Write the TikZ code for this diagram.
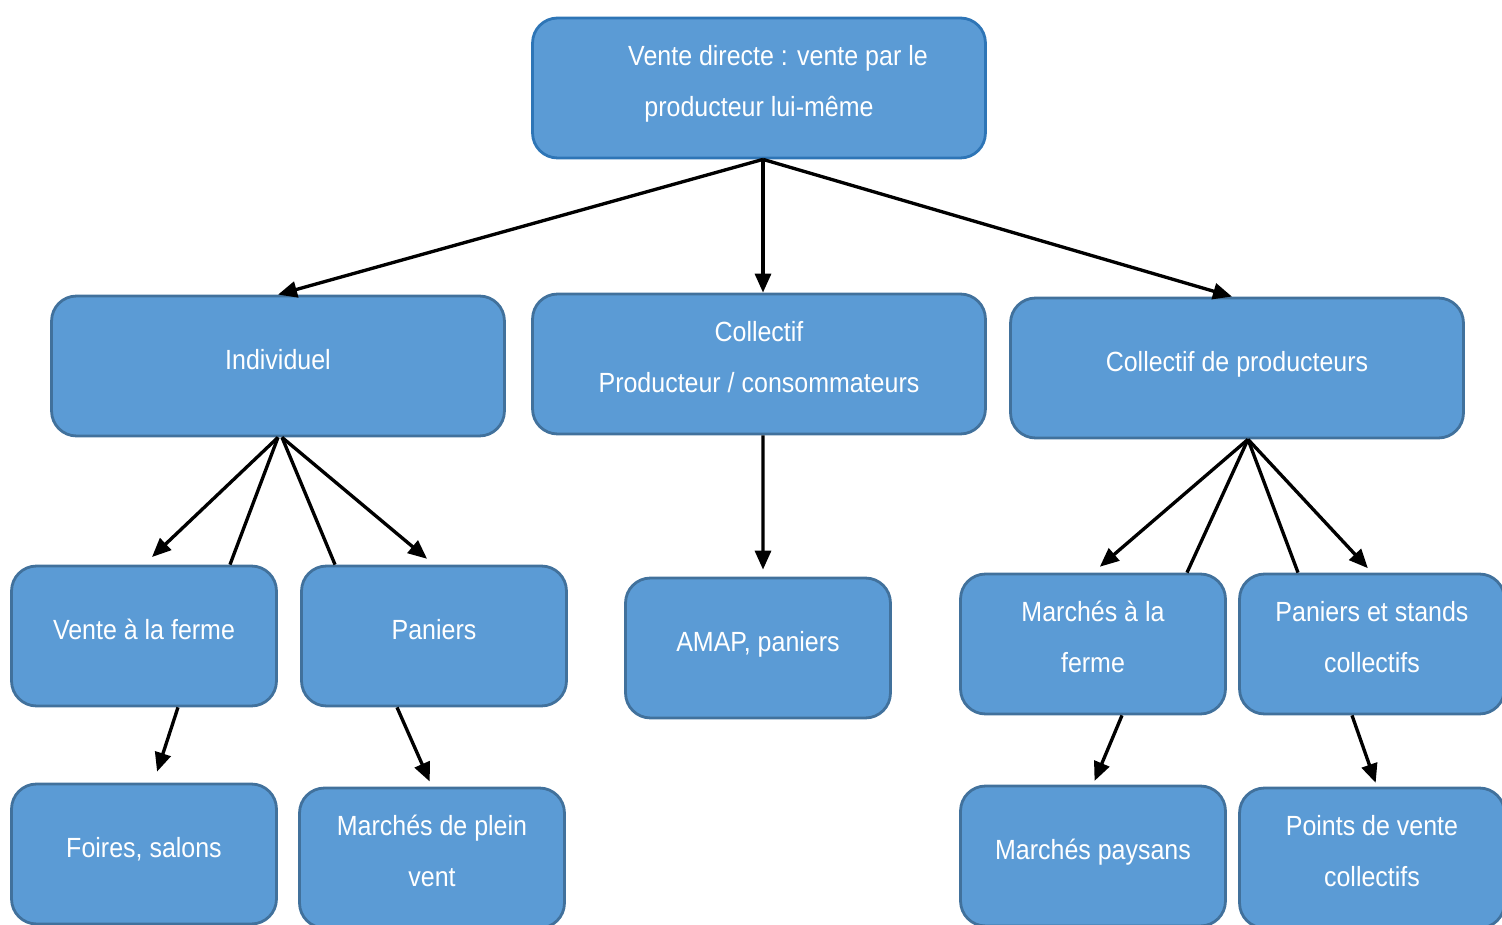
\documentclass[tikz,border=0pt]{standalone}
\usepackage{fontspec}
\setmainfont[FakeStretch=0.9]{Liberation Sans}
\usepackage{tikz}
\usetikzlibrary{arrows.meta}
\definecolor{boxfill}{HTML}{5B9BD5}
\definecolor{boxline}{HTML}{41719C}
\definecolor{topline}{HTML}{2E75B6}
\tikzstyle{bn}=[shape=rectangle,rounded corners=0.5cm,draw=boxline,line width=1.6pt,fill=boxfill,text=white,align=center,inner sep=0pt,text depth=0.28cm,font=\fontsize{15.8}{28.9}\selectfont]
\tikzstyle{bigbox}=[bn,minimum width=9.06cm,minimum height=2.8cm]
\tikzstyle{smallbox}=[bn,minimum width=5.3cm,minimum height=2.8cm]
\tikzstyle{to}=[-{Triangle[length=0.38cm,width=0.32cm]},line width=1.9pt]
\tikzstyle{common}=[line width=1.9pt]

\begin{document}
\begin{tikzpicture}[x=0.02cm,y=-0.02cm]
            \useasboundingbox (0,0) rectangle (1502,925);
            \node[bigbox,draw=topline] (top) at (759,88) {\hspace*{0.76cm}Vente directe : vente par le\\producteur lui-même};
            \node[bigbox] (ind) at (278,366) {Individuel};
            \node[bigbox] (col) at (759,364) {Collectif\\Producteur / consommateurs};
            \node[bigbox] (cp) at (1237,368) {Collectif de producteurs};
            \node[smallbox] (vf) at (144,636) {Vente à la ferme};
            \node[smallbox] (pa) at (434,636) {Paniers};
            \node[smallbox] (amap) at (758,648) {AMAP, paniers};
            \node[smallbox] (ma) at (1093,644) {Marchés à la\\ferme};
            \node[smallbox] (ps) at (1372,644) {Paniers et stands\\collectifs};
            \node[smallbox] (fs) at (144,854) {Foires, salons};
            \node[smallbox] (mv) at (432,858) {Marchés de plein\\vent};
            \node[smallbox] (mp) at (1093,856) {Marchés paysans};
            \node[smallbox] (pv) at (1372,858) {Points de vente\\collectifs};

            \draw[to] ([xshift=.08cm]top.south) -- (ind.north);
            \draw[to] ([xshift=.08cm]top.south) -- ([xshift=.08cm]col.north);
            \draw[to] ([xshift=.08cm]top.south) -- ([xshift=-.1cm]cp.north);

            \draw[to,shorten >=.22cm] (ind.south) -- (vf.north);
            \draw[common] (ind.south) -- ([xshift=1.72cm]vf.north);
            \draw[common] ([xshift=.08cm]ind.south) -- ([xshift=-1.98cm]pa.north);
            \draw[to,shorten >=.18cm] ([xshift=.08cm]ind.south) -- (pa.north);

            \draw[to,shorten >=.14cm] ([xshift=.08cm]col.south) -- ([xshift=.1cm]amap.north);

            \draw[to,shorten >=.18cm] ([xshift=.22cm]cp.south) -- (ma.north);
            \draw[common] ([xshift=.22cm]cp.south) -- ([xshift=1.88cm]ma.north);
            \draw[common] ([xshift=.22cm]cp.south) -- ([xshift=-1.48cm]ps.north);
            \draw[to,shorten >=.12cm] ([xshift=.22cm]cp.south) -- (ps.north);

            \draw[to,shorten >=.23cm] ([xshift=.68cm]vf.south) -- ([xshift=.19cm]fs.north);
            \draw[to,shorten >=.11cm] ([xshift=-.74cm]pa.south) -- (mv.north);
            \draw[to,shorten >=.08cm] ([xshift=.58cm]ma.south) -- (mp.north);
            \draw[to,shorten >=.08cm] ([xshift=-.4cm]ps.south) -- ([xshift=.1cm]pv.north);
\end{tikzpicture}
\end{document}
